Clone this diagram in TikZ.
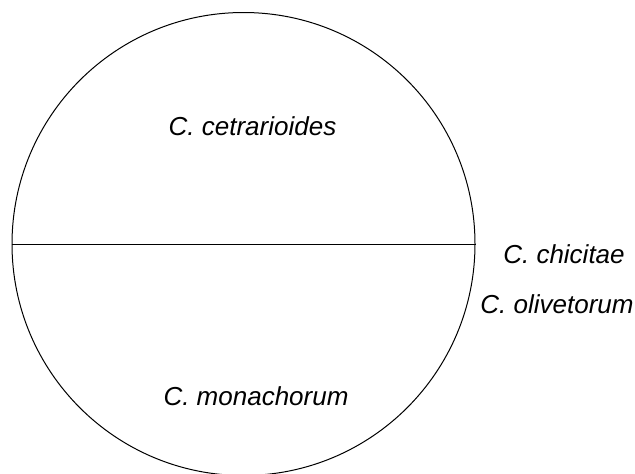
\documentclass[tikz,border=0pt]{standalone}
\usepackage{fontspec}
\setmainfont{Liberation Sans}
\usepackage{tikz}
\usetikzlibrary{positioning}

\begin{document}
\begin{tikzpicture}[x=1pt,y=-1pt]
  \tikzset{
    ring/.style={draw=black, line width=1pt, circle, minimum size=463pt, inner sep=0pt},
    split/.style={black, line width=1pt},
    taxon/.style={font=\fontsize{26}{30}\selectfont\itshape, anchor=base, inner sep=0pt}
  }

  % Page size
  \useasboundingbox (0,0) rectangle (635,474);

  % Circle and dividing line
  \node[ring] (ring) at (243.5,244) {};
  \draw[split] (ring.west) -- (ring.east);

  % Labels
  \node[taxon] (cet) at (252.5,135) {C. cetrarioides};
  \node[taxon] (mon) at (256,405) {C. monachorum};
  \node[taxon] (chi) at (564,263) {C. chicitae};
  \node[taxon] (oli) at (557,313) {C. olivetorum};

\end{tikzpicture}
\end{document}
